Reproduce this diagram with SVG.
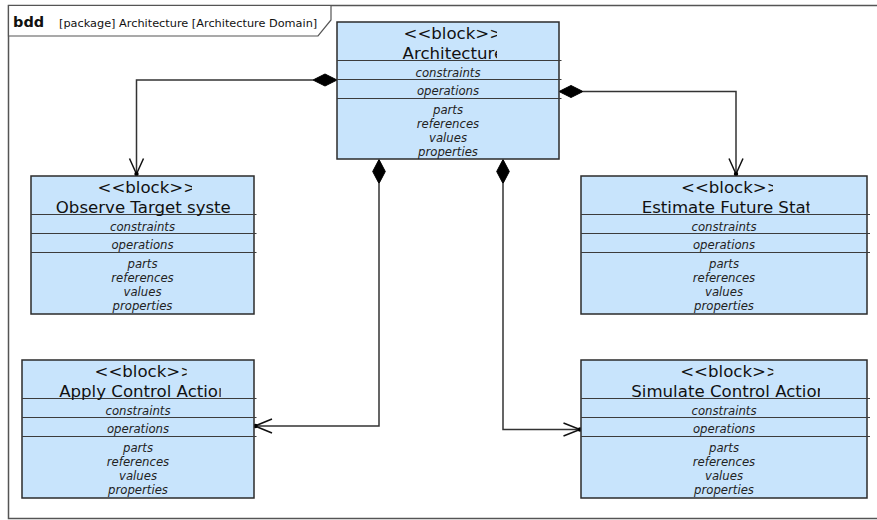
<svg xmlns="http://www.w3.org/2000/svg" width="877" height="520" viewBox="0 0 877 520">
<style>
.bg{fill:#fff}
.frame{fill:none;stroke:#555;stroke-width:1.5}
.tab{fill:#fff;stroke:#555;stroke-width:1.2}
.box{fill:#C8E4FC;stroke:#2b2b2b;stroke-width:1.5}
.sep{stroke:#3c3c3c;stroke-width:1.2}
.st{font-family:"DejaVu Sans",sans-serif;font-size:16.6px;fill:#111}
.cp{font-family:"DejaVu Sans",sans-serif;font-size:11.7px;font-style:italic;fill:#222;text-anchor:middle}
.hb{font-family:"DejaVu Sans",sans-serif;font-size:14.5px;font-weight:bold;fill:#111}
.ht{font-family:"DejaVu Sans",sans-serif;font-size:11.3px;fill:#111}
.conn{fill:none;stroke:#333;stroke-width:1.5}
.dia{fill:#000;stroke:#000;stroke-width:1}
.arr{fill:none;stroke:#111;stroke-width:1.5}
.dot{fill:#000}
</style>
<defs>
<clipPath id="c-arch" clipPathUnits="userSpaceOnUse"><rect x="337" y="22" width="160" height="40"/></clipPath>
<clipPath id="c-obs1" clipPathUnits="userSpaceOnUse"><rect x="31" y="176" width="161" height="22"/></clipPath>
<clipPath id="c-obs2" clipPathUnits="userSpaceOnUse"><rect x="31" y="196" width="200" height="22"/></clipPath>
<clipPath id="c-est1" clipPathUnits="userSpaceOnUse"><rect x="581" y="176" width="192" height="22"/></clipPath>
<clipPath id="c-est2" clipPathUnits="userSpaceOnUse"><rect x="581" y="196" width="228.5" height="22"/></clipPath>
<clipPath id="c-app1" clipPathUnits="userSpaceOnUse"><rect x="22" y="360" width="164.7" height="22"/></clipPath>
<clipPath id="c-app2" clipPathUnits="userSpaceOnUse"><rect x="22" y="380" width="198.7" height="22"/></clipPath>
<clipPath id="c-sim1" clipPathUnits="userSpaceOnUse"><rect x="581" y="360" width="192.3" height="22"/></clipPath>
<clipPath id="c-sim2" clipPathUnits="userSpaceOnUse"><rect x="581" y="380" width="239" height="22"/></clipPath>
</defs>
<rect class="bg" x="0" y="0" width="877" height="520"/>

<g id="frame">
<rect class="frame" x="8.5" y="5.5" width="880" height="513"/>
<polygon class="tab" points="8.5,5.5 331,5.5 331,20 318,36 8.5,36"/>
<text class="hb" x="13" y="27">bdd</text>
<text class="ht" x="59" y="27.3">[package] Architecture [Architecture Domain]</text>
</g>

<g id="connectors">
<path class="conn" d="M313,80 H136.5 V174"/>
<polygon class="dia" points="337,80 325,74 313,80 325,86"/>
<path class="arr" d="M129.5,158.5 L136.5,174 L143.5,158.5"/>
<circle class="dot" cx="136.5" cy="174" r="2.2"/>

<path class="conn" d="M583,91.5 H736 V174"/>
<polygon class="dia" points="559,91.5 571,85.5 583,91.5 571,97.5"/>
<path class="arr" d="M729,158.5 L736,174 L743,158.5"/>
<circle class="dot" cx="736" cy="174" r="2.2"/>

<path class="conn" d="M379,183.5 V426 H255"/>
<polygon class="dia" points="379,159.5 385.3,171.5 379,183.5 372.7,171.5"/>
<path class="arr" d="M272,419 L255,426 L272,433"/>
<circle class="dot" cx="255.5" cy="426" r="2.2"/>

<path class="conn" d="M503,183.5 V429.5 H580"/>
<polygon class="dia" points="503,159.5 509.3,171.5 503,183.5 496.7,171.5"/>
<path class="arr" d="M563.5,423 L580,429.5 L563.5,436"/>
<circle class="dot" cx="580" cy="429.5" r="2.2"/>
</g>

<g id="architecture">
<rect class="box" x="337" y="22" width="222" height="137"/>
<line class="sep" x1="337" y1="60.5" x2="561.5" y2="60.5"/>
<line class="sep" x1="337" y1="79.5" x2="561.5" y2="79.5"/>
<line class="sep" x1="337" y1="98.5" x2="561.5" y2="98.5"/>
<text class="st" x="403.5" y="39.3" clip-path="url(#c-arch)">&lt;&lt;block&gt;&gt;</text>
<text class="st" x="402.6" y="58.5" clip-path="url(#c-arch)">Architecture</text>
<text class="cp" x="448" y="76.5">constraints</text>
<text class="cp" x="448" y="95">operations</text>
<text class="cp" x="448" y="113.8">parts</text>
<text class="cp" x="448" y="128">references</text>
<text class="cp" x="448" y="142">values</text>
<text class="cp" x="448" y="156">properties</text>
</g>

<g id="observe">
<rect class="box" x="31" y="176" width="223" height="138"/>
<line class="sep" x1="31" y1="214.5" x2="256.5" y2="214.5"/>
<line class="sep" x1="31" y1="233.5" x2="256.5" y2="233.5"/>
<line class="sep" x1="31" y1="252.5" x2="256.5" y2="252.5"/>
<text class="st" x="97.5" y="193.3" clip-path="url(#c-obs1)">&lt;&lt;block&gt;&gt;</text>
<text class="st" x="55.8" y="212.7" clip-path="url(#c-obs2)">Observe Target system</text>
<text class="cp" x="142.5" y="230.8">constraints</text>
<text class="cp" x="142.5" y="249.3">operations</text>
<text class="cp" x="142.5" y="268">parts</text>
<text class="cp" x="142.5" y="282.3">references</text>
<text class="cp" x="142.5" y="296.3">values</text>
<text class="cp" x="142.5" y="310.3">properties</text>
</g>

<g id="estimate">
<rect class="box" x="581" y="176" width="286" height="138"/>
<line class="sep" x1="581" y1="214.5" x2="870" y2="214.5"/>
<line class="sep" x1="581" y1="233.5" x2="870" y2="233.5"/>
<line class="sep" x1="581" y1="252.5" x2="870" y2="252.5"/>
<text class="st" x="681" y="193.3" clip-path="url(#c-est1)">&lt;&lt;block&gt;&gt;</text>
<text class="st" x="641.7" y="212.7" clip-path="url(#c-est2)">Estimate Future State</text>
<text class="cp" x="724" y="230.8">constraints</text>
<text class="cp" x="724" y="249.3">operations</text>
<text class="cp" x="724" y="268">parts</text>
<text class="cp" x="724" y="282.3">references</text>
<text class="cp" x="724" y="296.3">values</text>
<text class="cp" x="724" y="310.3">properties</text>
</g>

<g id="apply">
<rect class="box" x="22" y="360" width="232" height="138"/>
<line class="sep" x1="22" y1="398.5" x2="256.5" y2="398.5"/>
<line class="sep" x1="22" y1="417.5" x2="256.5" y2="417.5"/>
<line class="sep" x1="22" y1="436.5" x2="256.5" y2="436.5"/>
<text class="st" x="94.5" y="377.3" clip-path="url(#c-app1)">&lt;&lt;block&gt;&gt;</text>
<text class="st" x="59.2" y="396.7" clip-path="url(#c-app2)">Apply Control Action</text>
<text class="cp" x="138" y="414.8">constraints</text>
<text class="cp" x="138" y="433.3">operations</text>
<text class="cp" x="138" y="452">parts</text>
<text class="cp" x="138" y="466.3">references</text>
<text class="cp" x="138" y="480.3">values</text>
<text class="cp" x="138" y="494.3">properties</text>
</g>

<g id="simulate">
<rect class="box" x="581" y="360" width="286" height="138"/>
<line class="sep" x1="581" y1="398.5" x2="870" y2="398.5"/>
<line class="sep" x1="581" y1="417.5" x2="870" y2="417.5"/>
<line class="sep" x1="581" y1="436.5" x2="870" y2="436.5"/>
<text class="st" x="680.2" y="377.3" clip-path="url(#c-sim1)">&lt;&lt;block&gt;&gt;</text>
<text class="st" x="631.3" y="396.7" clip-path="url(#c-sim2)">Simulate Control Action</text>
<text class="cp" x="724" y="414.8">constraints</text>
<text class="cp" x="724" y="433.3">operations</text>
<text class="cp" x="724" y="452">parts</text>
<text class="cp" x="724" y="466.3">references</text>
<text class="cp" x="724" y="480.3">values</text>
<text class="cp" x="724" y="494.3">properties</text>
</g>
</svg>
